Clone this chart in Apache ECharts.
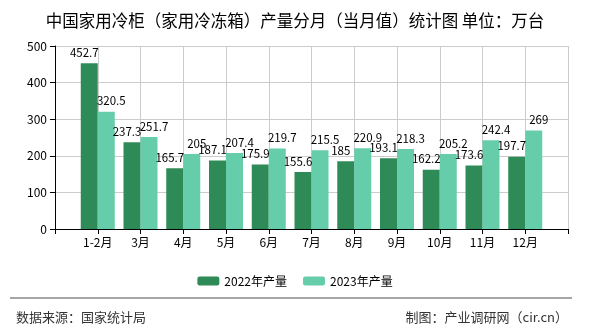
<!DOCTYPE html>
<html>
<head>
<meta charset="utf-8">
<script src="https://cdn.jsdelivr.net/npm/echarts@6/dist/echarts.min.js"></script>
<style>
html,body{margin:0;padding:0;background:#fff;}
#c{width:590px;height:330px;}
</style>
</head>
<body>
<div id="c"></div>
<script>
var categories = ['1-2月','3月','4月','5月','6月','7月','8月','9月','10月','11月','12月'];
var values2022 = [452.7, 237.3, 165.7, 187.1, 175.9, 155.6, 185, 193.1, 162.2, 173.6, 197.7];
var values2023 = [320.5, 251.7, 205, 207.4, 219.7, 215.5, 220.9, 218.3, 205.2, 242.4, 269];
var yTicks = [0, 100, 200, 300, 400, 500];
var seriesNames = ['2022年产量', '2023年产量'];

var cats = [''].concat(categories, ['']);
function pad(a){ return [null].concat(a, [null]); }

var chart = echarts.init(document.getElementById('c'), null, {renderer:'canvas'});
var font = '"Noto Sans CJK SC", "Noto Sans", sans-serif';
var labelCfg = {show:true, position:'top', color:'#000', fontSize:11.5, fontFamily:font, distance:5};
chart.setOption({
  backgroundColor:'#fff',
  animation:false,
  textStyle:{fontFamily:font},
  title:[{
    text:'中国家用冷柜（家用冷冻箱）产量分月（当月值）统计图 单位：万台',
    left:'center', top:7,
    textStyle:{fontSize:16.5, fontWeight:'normal', color:'#000', fontFamily:font}
  },{
    text:'数据来源：国家统计局', left:11, top:306,
    textStyle:{fontSize:13, fontWeight:'normal', color:'#333', fontFamily:font}
  },{
    text:'制图：产业调研网（cir.cn）', right:17, top:306,
    textStyle:{fontSize:13, fontWeight:'normal', color:'#333', fontFamily:font}
  }],
  graphic:[{type:'line', shape:{x1:10, y1:298, x2:572, y2:298}, style:{stroke:'#888', lineWidth:1.5}}],
  legend:{
    data:seriesNames, left:'center', top:270, itemWidth:22, itemHeight:9, itemGap:16,
    textStyle:{fontSize:12, color:'#000', fontFamily:font}
  },
  grid:{left:55, right:22, top:46, bottom:101},
  xAxis:{
    type:'category', data:cats, boundaryGap:false,
    axisLine:{lineStyle:{color:'#000'}},
    axisTick:{show:true, length:5, interval:0, lineStyle:{color:'#000'}},
    axisLabel:{interval:0, color:'#000', fontSize:12, margin:7},
    splitLine:{show:true, interval:0, lineStyle:{color:'#ccc'}}
  },
  yAxis:{
    type:'value', min:yTicks[0], max:yTicks[yTicks.length-1], interval:100,
    axisLine:{show:true, lineStyle:{color:'#000'}},
    axisTick:{show:true, length:5, lineStyle:{color:'#000'}},
    axisLabel:{color:'#000', fontSize:12, margin:8},
    splitLine:{show:true, lineStyle:{color:'#ccc'}}
  },
  series:[{
    name:seriesNames[0], type:'bar', data:pad(values2022), barWidth:17, barGap:'0%',
    itemStyle:{color:'#2e8b57'}, label:labelCfg,
    labelLayout:{dx:-5}
  },{
    name:seriesNames[1], type:'bar', data:pad(values2023), barWidth:17, barGap:'0%',
    itemStyle:{color:'#66cdaa'}, label:labelCfg,
    labelLayout:{dx:5}
  }]
});
</script>
</body>
</html>
